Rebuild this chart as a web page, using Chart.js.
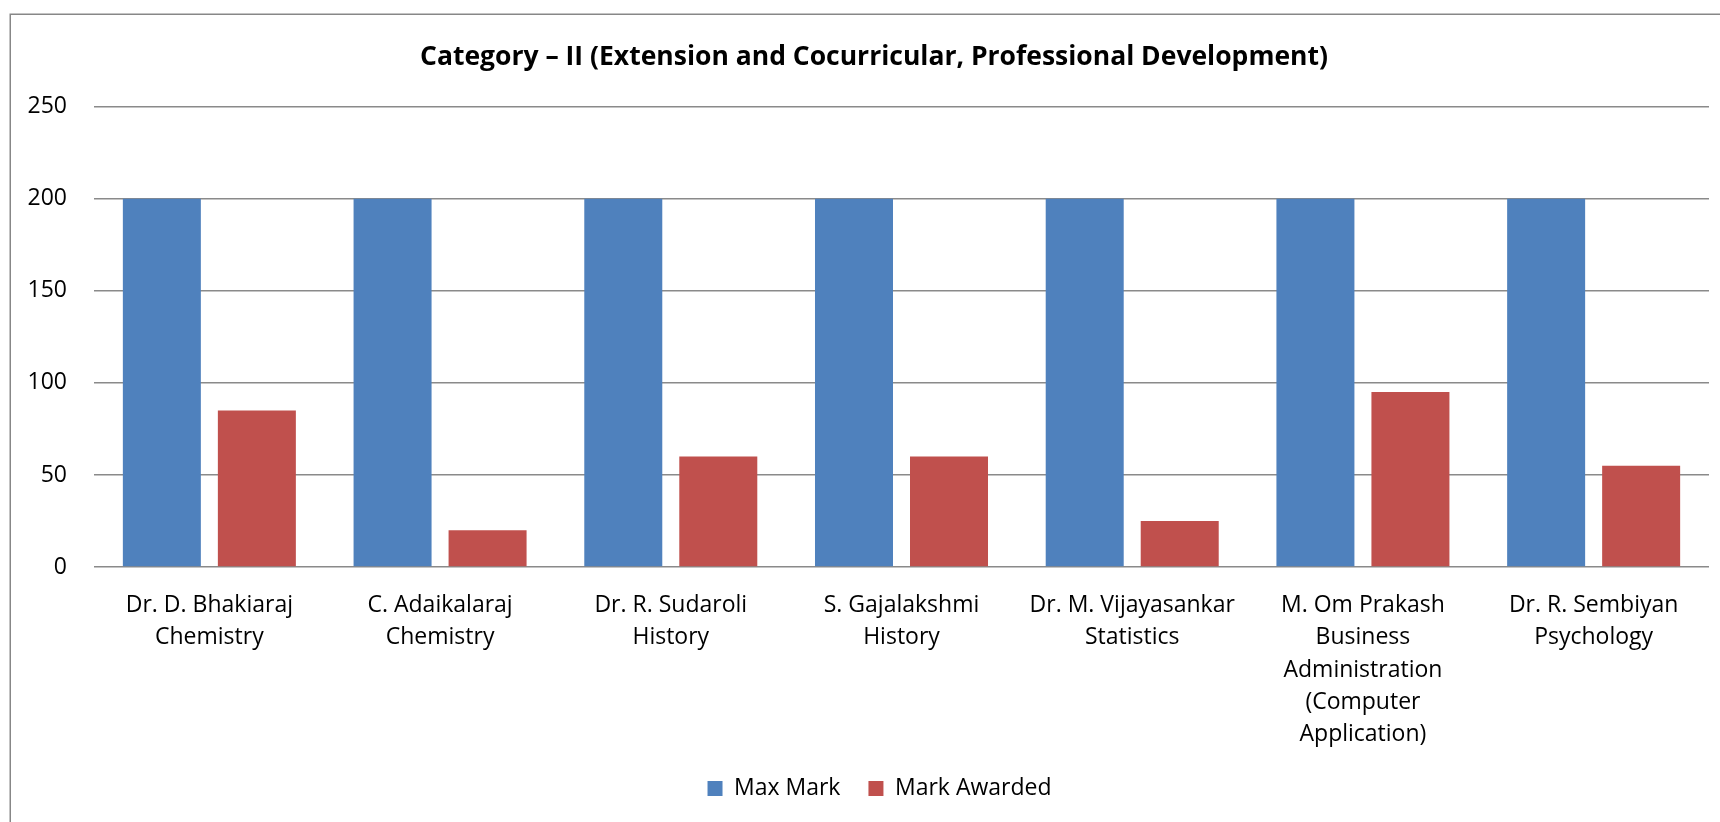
<!DOCTYPE html>
<html><head><meta charset="utf-8">
<script src="https://cdn.jsdelivr.net/npm/chart.js@4/dist/chart.umd.min.js"></script>
<style>html,body{margin:0;padding:0;background:#fff;overflow:hidden}
#wrap{position:absolute;left:0;top:0;width:1760px;height:822px}</style>
</head><body><div id="wrap"><canvas id="c" width="1760" height="822" style="width:1760px;height:822px"></canvas></div>
<script>
const categories = [
  ["Dr. D. Bhakiaraj", "Chemistry"],
  ["C. Adaikalaraj", "Chemistry"],
  ["Dr. R. Sudaroli", "History"],
  ["S. Gajalakshmi", "History"],
  ["Dr. M. Vijayasankar", "Statistics"],
  ["M. Om Prakash", "Business", "Administration", "(Computer", "Application)"],
  ["Dr. R. Sembiyan", "Psychology"]
];
const maxMark = [200, 200, 200, 200, 200, 200, 200];
const markAwarded = [85, 20, 60, 60, 25, 95, 55];
const seriesNames = ["Max Mark", "Mark Awarded"];
const chartTitle = "Category \u2013 II (Extension and Cocurricular, Professional Development)";

const FONT = "'Open Sans', Lato, sans-serif";

const framePlugin = {
  id: 'frame',
  afterLayout(chart) {
    // centre title and legend like the original chart frame
    if (chart.titleBlock) chart.titleBlock.left = 39;
    if (chart.legend) chart.legend.left = 50;
  },
  beforeDraw(chart) {
    const ctx = chart.ctx;
    ctx.save();
    ctx.fillStyle = '#fff';
    ctx.fillRect(0, 0, chart.width, chart.height);
    ctx.strokeStyle = '#878787';
    ctx.lineWidth = 1.5;
    ctx.strokeRect(10.25, 14.25, 1740, 900);
    ctx.restore();
  }
};

new Chart(document.getElementById('c'), {
  type: 'bar',
  data: {
    labels: categories,
    datasets: [
      { label: seriesNames[0], data: maxMark, backgroundColor: '#4F81BD', borderWidth: 0 },
      { label: seriesNames[1], data: markAwarded, backgroundColor: '#C0504D', borderWidth: 0 }
    ]
  },
  options: {
    responsive: false,
    animation: false,
    devicePixelRatio: 1,
    categoryPercentage: 0.8236,
    barPercentage: 0.821,
    layout: { padding: { left: 20, right: 51, top: 14, bottom: 12 } },
    plugins: {
      tooltip: { enabled: false },
      title: {
        display: true,
        text: chartTitle,
        color: '#000',
        font: { family: FONT, size: 26.5, weight: 'bold', lineHeight: 1.2 },
        padding: { top: 28, bottom: 33 }
      },
      legend: {
        position: 'bottom',
        labels: {
          color: '#000',
          font: { family: FONT, size: 23 },
          boxWidth: 15,
          boxHeight: 15,
          padding: 28
        }
      }
    },
    scales: {
      x: {
        grid: { display: false, drawTicks: false },
        border: { display: false },
        ticks: {
          color: '#000',
          font: { family: FONT, size: 23, lineHeight: 1.41 },
          padding: 22,
          maxRotation: 0,
          autoSkip: false
        },
        afterFit(scale) { scale.height = 182; }
      },
      y: {
        min: 0, max: 250,
        grid: { color: '#8a8a8a', lineWidth: 1.5, drawTicks: false },
        border: { display: false },
        ticks: {
          stepSize: 50,
          color: '#000',
          font: { family: FONT, size: 23 },
          padding: 27
        },
        afterFit(scale) { scale.width = 74; }
      }
    }
  },
  plugins: [framePlugin]
});
</script>
</body></html>
